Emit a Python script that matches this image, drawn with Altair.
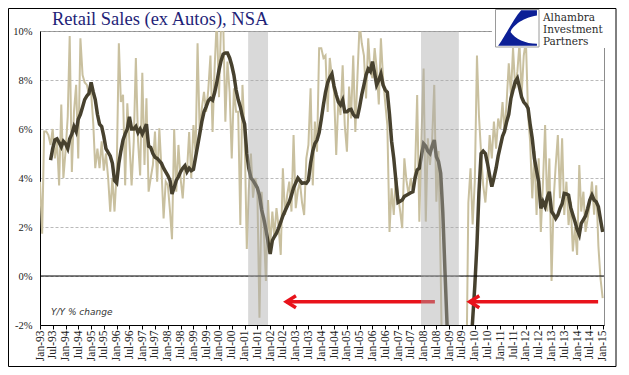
import altair as alt
import pandas as pd

# ---- data (monthly, Jan-93 .. Jan-15) ----
LIGHT = [
    3.85, 1.73, 5.9, 5.9, 5.75, 5.35, 6.0, 4.8, 5.5, 3.7, 7.0, 4.0,        # 1993
    5.1, 6.5, 9.8, 4.25, 6.7, 7.8, 4.8, 9.7, 8.2, 7.9, 7.8, 7.4,          # 1994
    7.5, 6.2, 4.4, 5.2, 4.4, 5.5, 4.3, 5.0, 4.0, 2.63, 4.0, 2.63,         # 1995
    4.25, 9.5, 7.1, 7.4, 3.7, 7.05, 5.48, 3.7, 5.5, 8.9, 5.5, 4.1,        # 1996
    8.3, 4.53, 7.25, 3.44, 4.0, 4.53, 5.9, 3.85, 6.03, 4.4, 2.35, 3.85,   # 1997
    3.7, 2.63, 1.5, 6.0, 3.44, 5.35, 4.0, 3.17, 4.53, 4.25, 5.88, 4.0,    # 1998
    6.16, 5.0, 9.5, 5.75, 6.84, 7.52, 6.7, 7.6, 9.0, 5.88, 8.6, 10.5,     # 1999
    7.3, 10.5, 10.4, 6.3, 8.75, 7.5, 4.8, 7.66, 6.7, 6.7, 2.08, 7.8,      # 2000
    5.8, 1.1, 3.5, 5.0, 3.2, 4.0, 3.6, -1.7, 3.44, 2.0, -0.2, 3.1,        # 2001
    1.2, 2.63, 1.6, 2.77, 2.0, 0.86, 4.4, 2.49, 3.3, 3.85, 2.63, 5.75,    # 2002
    2.77, 3.5, 3.85, 3.0, 2.49, 4.8, 5.35, 7.66, 3.7, 6.3, 5.07, 9.3,     # 2003
    9.3, 8.9, 9.0, 6.7, 8.9, 8.1, 7.52, 4.94, 7.25, 6.57, 8.6, 6.16,      # 2004
    5.07, 7.73, 6.43, 9.0, 5.88, 8.2, 10.3, 9.5, 9.0, 7.25, 9.7, 8.34,    # 2005
    8.07, 9.3, 8.5, 7.0, 9.7, 8.07, 7.1, 6.16, 1.8, 3.58, 2.49, 4.12,     # 2006
    3.3, 2.63, 1.95, 4.8, 3.9, 3.3, 4.0, 3.44, 4.26, 7.39, 2.22, 5.62,    # 2007
    8.47, 2.22, 5.62, 4.53, 5.5, 7.8, 3.03, 5.1, 0.2, -5.5, -8.0, -9.0,   # 2008
    -10.0, -10.0, -9.5, -9.0, -9.0, -8.5, -8.0, -7.0, -4.5, 3.0, 4.4, 2.1,  # 2009
    3.85, 9.0, 6.57, 5.0, 3.7, 3.0, 4.12, 5.75, 4.8, 6.3, 5.2, 6.43,      # 2010
    6.0, 7.1, 5.88, 7.1, 8.68, 7.4, 9.3, 7.66, 8.34, 9.5, 7.4, 9.0,       # 2011
    9.6, 6.57, 5.48, 3.17, 5.1, 2.49, 4.8, 1.8, 3.85, 6.16, 2.63, 4.8,    # 2012
    -0.2, 3.17, 4.5, 5.75, 3.17, 5.62, 2.49, 3.85, 2.08, 3.03, 1.0, 2.0,  # 2013
    0.86, 4.53, 2.63, 3.44, 1.8, 2.35, 2.9, 3.85, 2.5, 3.7, 1.22, -0.1,   # 2014
    -0.9,                                                                 # 2015
]

DARK = [
    None, None, None, None, None, 4.73, 5.2, 5.55, 5.6, 5.45, 5.27, 5.5,  # 1993
    5.4, 5.2, 5.6, 5.8, 6.1, 5.9, 6.4, 6.6, 6.9, 7.2, 7.35, 7.45,         # 1994
    7.9, 7.5, 7.2, 6.6, 6.2, 6.1, 5.7, 5.2, 5.05, 4.9, 4.6, 3.9,          # 1995
    3.8, 4.6, 5.1, 5.55, 5.8, 6.0, 6.5, 6.0, 6.0, 6.1, 5.85, 6.0,         # 1996
    5.8, 6.0, 6.2, 5.3, 5.25, 5.0, 4.85, 4.8, 4.7, 4.6, 4.4, 4.25,        # 1997
    4.1, 3.9, 3.35, 3.6, 3.9, 4.05, 4.25, 4.4, 4.5, 4.25, 4.4, 4.3,       # 1998
    4.35, 4.85, 5.3, 5.8, 6.3, 6.7, 6.9, 7.15, 7.25, 7.18, 7.5, 7.9,      # 1999
    8.4, 8.8, 9.05, 9.1, 9.1, 8.9, 8.6, 8.2, 7.6, 7.2, 6.9, 6.5,          # 2000
    6.2, 5.0, 4.4, 4.0, 3.9, 3.75, 3.6, 3.3, 2.7, 2.35, 1.9, 1.4,         # 2001
    0.9, 1.45, 1.6, 1.75, 1.95, 2.2, 2.45, 2.65, 2.85, 3.03, 3.3, 3.6,    # 2002
    3.8, 4.0, 3.9, 3.78, 3.8, 3.78, 3.9, 4.6, 5.1, 5.4, 5.55, 5.85,       # 2003
    6.4, 7.0, 7.5, 7.9, 8.1, 8.25, 7.75, 7.4, 7.1, 6.98, 7.18, 6.7,       # 2004
    6.7, 6.78, 6.8, 6.6, 6.5, 6.5, 6.9, 7.4, 7.8, 8.2, 8.45, 8.35,        # 2005
    8.75, 8.27, 7.8, 8.0, 8.25, 7.8, 7.6, 7.5, 6.6, 5.5, 4.8, 3.9,        # 2006
    3.0, 3.05, 3.1, 3.25, 3.3, 3.35, 3.4, 3.44, 4.0, 4.33, 4.4, 4.9,      # 2007
    5.4, 5.3, 5.1, 5.0, 5.3, 5.55, 4.87, 4.67, 4.2, 2.6, 0.2, -2.0,       # 2008
    -4.0, -5.5, -6.5, -7.2, -7.5, -7.5, -7.2, -6.6, -5.8, -4.8, -3.2, -1.8,  # 2009
    -0.4, 1.3, 3.4, 5.0, 5.1, 5.0, 4.6, 4.1, 3.65, 4.0, 4.4, 4.9,         # 2010
    5.3, 5.7, 5.9, 6.3, 6.6, 7.25, 7.6, 7.93, 8.07, 7.7, 7.3, 7.1,        # 2011
    7.0, 6.84, 6.2, 5.6, 4.8, 4.3, 3.85, 2.76, 3.03, 2.83, 3.2, 3.44,     # 2012
    2.63, 2.5, 2.35, 2.49, 2.75, 2.95, 3.37, 3.35, 3.3, 2.8, 2.5, 2.22,   # 2013
    1.9, 1.68, 2.15, 2.3, 2.45, 2.76, 3.1, 3.3, 3.1, 3.03, 2.83, 2.3,     # 2014
    1.8,                                                                  # 2015
]

REC_START = ["2001-02-20", "2007-11-25"]
REC_END = ["2001-12-01", "2009-05-18"]
ARROW_FROM = ["2008-06-10", "2014-10-28"]
ARROW_TO = ["2002-08-20", "2009-10-20"]
ARROW_Y = [-1.05, -1.05]
Y_TICKS = [-2, 0, 2, 4, 6, 8, 10]
LOGO_LINES = ["Alhambra", "Investment", "Partners"]

# ---- tables ----
dates = pd.date_range("1993-01-01", periods=len(LIGHT), freq="MS")
df = pd.DataFrame({"date": dates, "raw": LIGHT, "avg": DARK})
df_dark = df.dropna(subset=["avg"])
rec = pd.DataFrame({"s": pd.to_datetime(REC_START), "e": pd.to_datetime(REC_END),
                    "top": [10, 10], "bot": [-2, -2]})
arrows = pd.DataFrame({"f": pd.to_datetime(ARROW_FROM), "t": pd.to_datetime(ARROW_TO), "y": ARROW_Y})
zero = pd.DataFrame({"v": [0]})
one = pd.DataFrame({"k": [0]})

x_ticks = []
for yr in range(1993, 2016):
    x_ticks.append(alt.DateTime(year=yr, month=1, date=1))
    if yr < 2015:
        x_ticks.append(alt.DateTime(year=yr, month=7, date=1))

X_SCALE = alt.Scale(domain=[alt.DateTime(year=1993, month=1, date=1),
                            alt.DateTime(year=2015, month=1, date=20)])
Y_SCALE = alt.Scale(domain=[-2, 10], nice=False, zero=False)
X_AXIS = alt.Axis(values=x_ticks, format="%b-%y", labelAngle=270, title=None,
                  grid=False, domainColor="black", tickColor="black", tickSize=4,
                  labelPadding=1, labelFont="Liberation Serif", labelFontSize=11.5,
                  labelColor="#222222", labelOverlap=False)
Y_AXIS = alt.Axis(values=Y_TICKS, labelExpr="datum.value + '%'", title=None,
                  ticks=False, domainColor="black", labelPadding=8,
                  labelFont="Liberation Serif", labelFontSize=10.5, labelColor="#222222",
                  grid=True, gridColor="#a8a8a8", gridDash=[3, 2], gridWidth=0.8)

def X(f):
    return alt.X(f, scale=X_SCALE, axis=X_AXIS, title=None)

def Y(f):
    return alt.Y(f, scale=Y_SCALE, axis=Y_AXIS, title=None)

light = alt.Chart(df).mark_line(color="#c9c09f", strokeWidth=2, clip=True).encode(
    x=X("date:T"), y=Y("raw:Q"))
dark = alt.Chart(df_dark).mark_line(color="#47412e", strokeWidth=3.5, clip=True).encode(
    x=X("date:T"), y=Y("avg:Q"))
zline = alt.Chart(zero).mark_rule(color="black", strokeWidth=1).encode(y=Y("v:Q"))
shafts = alt.Chart(arrows).mark_rule(color="#e8131b", strokeWidth=3.5).encode(
    x=X("f:T"), x2="t:T", y=Y("y:Q"))
heads = alt.Chart(arrows).mark_point(shape="M 1.6 -1 L 0 0 L 1.6 1", size=144, filled=False,
                                     color="#e8131b", strokeWidth=3.5, opacity=1).encode(
    x=X("t:T"), y=Y("y:Q"))
shade = alt.Chart(rec).mark_rect(color="#a9a9a9", opacity=0.44).encode(
    x=X("s:T"), x2="e:T", y=Y("top:Q"), y2="bot:Q")

title = alt.Chart(one).mark_text(text="Retail Sales (ex Autos), NSA", align="left",
                                 baseline="alphabetic", font="Liberation Serif",
                                 fontSize=18.5, color="#1f1f78").encode(
    x=alt.value(12), y=alt.value(-6))
note = alt.Chart(one).mark_text(text="Y/Y % change", align="left", baseline="alphabetic",
                                font="DejaVu Sans", fontStyle="italic", fontSize=9,
                                color="#333333").encode(x=alt.value(11), y=alt.value(284))

logo_bg = alt.Chart(one).mark_rect(color="white").encode(
    x=alt.value(452), x2=alt.value(576), y=alt.value(-27), y2=alt.value(17))
logo_box = alt.Chart(one).mark_rect(fill="white", stroke="#9a9a9a", strokeWidth=1).encode(
    x=alt.value(455.5), x2=alt.value(499), y=alt.value(-21.5), y2=alt.value(16))
logo_mark = alt.Chart(one).mark_point(
    shape="M 0.2 -0.85 L 0.95 -0.85 L 0.95 -0.6 C 0.2 -0.5 -0.3 0 -0.3 0.2 C -0.1 0.5 0.4 0.75 0.95 0.75 L 0.95 0.85 L -0.9 0.85 C -0.5 0.3 -0.2 -0.4 0.2 -0.85 Z",
    size=1764, filled=True, color="#0c1f96", opacity=1).encode(
    x=alt.value(477), y=alt.value(-3))
logo_txt = alt.Chart(one).mark_text(
    text=LOGO_LINES, lineHeight=12.3, align="left", baseline="alphabetic",
    font="DejaVu Serif", fontSize=10.5, color="#2b2b2b").encode(
    x=alt.value(503), y=alt.value(-10.5))
frame = alt.Chart(one).mark_rect(fill=None, stroke="black", strokeWidth=1).encode(
    x=alt.value(-31.5), x2=alt.value(576), y=alt.value(-22.5), y2=alt.value(335.5))

chart = alt.layer(
    light, dark, zline, shafts, heads, shade, title, note,
    logo_bg, logo_box, logo_mark, logo_txt, frame
).properties(
    width=564, height=294,
    autosize=alt.AutoSizeParams(type="none"),
    padding={"left": 32, "top": 23, "right": 17, "bottom": 42},
    background="white",
).configure_view(stroke="#8c8c8c", strokeWidth=1)

chart.save("out.html", embed_options={"renderer": "svg", "actions": False})
